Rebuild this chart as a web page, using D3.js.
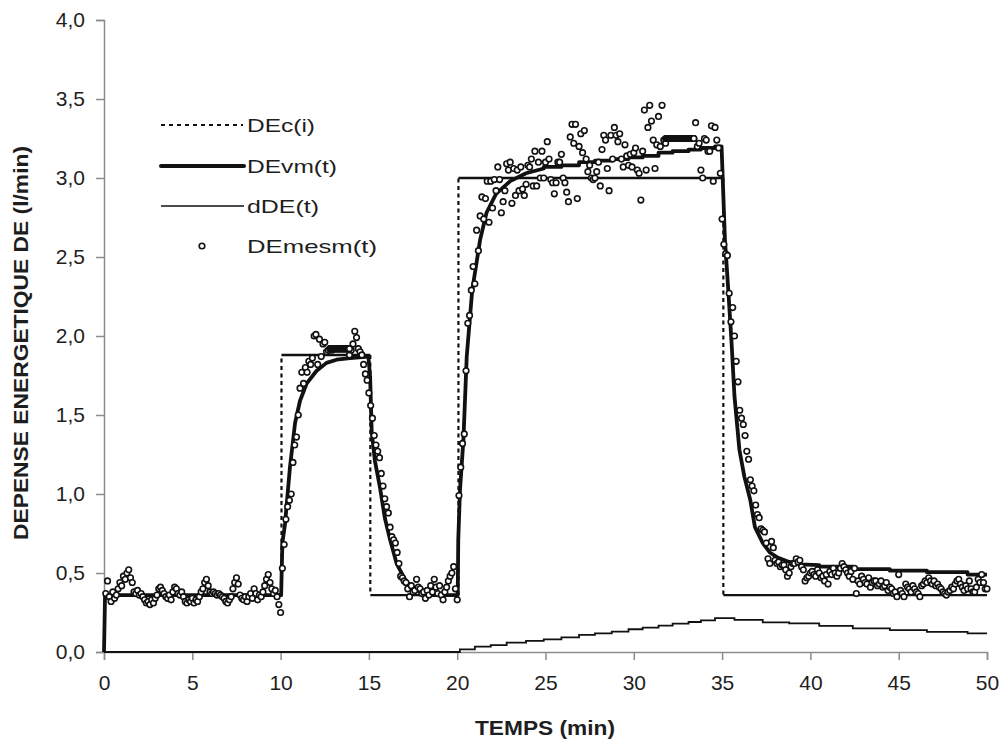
<!DOCTYPE html>
<html><head><meta charset="utf-8">
<script src="https://cdn.jsdelivr.net/npm/d3@7"></script>
<style>
html,body{margin:0;padding:0;background:#fff;}
svg{display:block;font-family:"Liberation Sans",Arial,sans-serif;}
</style></head>
<body>
<svg id="chart" width="1002" height="747"></svg>
<script>
// ---------- DATA ----------
const xTicks = [0,5,10,15,20,25,30,35,40,45,50];
const yTicks = [0,0.5,1,1.5,2,2.5,3,3.5,4];

// DEc(i) : consigne (step series)
const decTimes  = [0, 10.05, 10.05, 15.08, 15.08, 20.07, 20.07, 35.07, 35.07, 50];
const decValues = [0.36, 0.36, 1.88, 1.88, 0.36, 0.36, 3.0, 3.0, 0.36, 0.36];

// DEvm(t) : model response
const devmTimes  = [0, 0.06, 10.03, 10.1, 10.25, 10.53, 10.82, 11.1, 11.48, 12.04, 12.6, 13.17, 13.93, 14.97,
  15.07, 15.16, 15.34, 15.63, 15.9, 16.2, 16.57, 17.13, 17.9, 18.6, 20.03, 20.06, 20.16, 20.35, 20.54, 20.85,
  21.3, 21.66, 22.2, 23.0, 23.9, 24.9, 24.9, 25.9, 25.9, 26.9, 26.9, 27.8, 27.8, 28.75, 28.75, 29.7, 29.7,
  30.5, 30.5, 31.4, 31.4, 32.2, 32.2, 33.1, 33.1, 33.8, 33.8, 34.6, 34.6, 34.97, 35.16, 35.35, 35.54, 35.7,
  35.98, 36.26, 36.6, 36.86, 37.3, 37.7, 38.1, 38.8, 39.4, 40.5, 40.5, 42.4, 42.4, 44.5, 44.5, 46.6, 46.6,
  48.9, 48.9, 50];
const devmValues = [0, 0.36, 0.36, 0.69, 0.81, 1.17, 1.45, 1.59, 1.70, 1.78, 1.83, 1.85, 1.86, 1.87,
  1.74, 1.39, 1.21, 1.04, 0.85, 0.71, 0.56, 0.44, 0.38, 0.36, 0.36, 0.71, 1.03, 1.34, 1.87, 2.29,
  2.61, 2.78, 2.90, 2.98, 3.03, 3.06, 3.07, 3.07, 3.08, 3.08, 3.10, 3.10, 3.11, 3.11, 3.12, 3.12, 3.13,
  3.13, 3.14, 3.14, 3.16, 3.16, 3.17, 3.17, 3.18, 3.18, 3.19, 3.19, 3.20, 3.20, 2.61, 2.29, 1.95, 1.62,
  1.28, 1.11, 0.96, 0.79, 0.69, 0.63, 0.60, 0.57, 0.555, 0.55, 0.54, 0.54, 0.525, 0.525, 0.515, 0.515, 0.505,
  0.505, 0.49, 0.49];

// dDE(t) : drift term (step series)
const ddeTimes  = [0, 20.15, 21.0, 21.9, 22.8, 23.9, 24.9, 25.9, 26.9, 27.8, 28.75, 29.7, 30.5, 31.4, 32.2,
  33.1, 33.8, 34.6, 35.7, 37.3, 38.8, 40.5, 42.4, 44.5, 46.6, 48.9, 50];
const ddeValues = [0, 0.017, 0.034, 0.044, 0.059, 0.07, 0.08, 0.093, 0.108, 0.118, 0.129, 0.144, 0.154, 0.167, 0.18,
  0.19, 0.2, 0.215, 0.203, 0.188, 0.181, 0.165, 0.15, 0.139, 0.127, 0.118, 0.118];

// DEmesm(t) : measurements, sampled every 0.1 min
const mesStep = 0.1;
const mesRest1 = [ // t = 0.1 .. 10.0
 0.37,0.45,0.35,0.32,0.38,0.34,0.36,0.40,0.44,0.42, 0.48,0.46,0.50,0.52,0.47,0.44,0.38,0.37,0.39,0.36,
 0.37,0.35,0.33,0.31,0.32,0.30,0.33,0.31,0.34,0.36, 0.40,0.41,0.39,0.37,0.35,0.34,0.36,0.33,0.38,0.41,
 0.40,0.37,0.36,0.38,0.35,0.32,0.31,0.33,0.32,0.34, 0.31,0.33,0.32,0.35,0.38,0.40,0.44,0.46,0.42,0.38,
 0.37,0.38,0.37,0.36,0.37,0.36,0.35,0.34,0.32,0.31, 0.33,0.35,0.40,0.44,0.47,0.43,0.36,0.34,0.33,0.35,
 0.32,0.35,0.37,0.34,0.40,0.37,0.33,0.36,0.35,0.38, 0.42,0.46,0.49,0.44,0.40,0.37,0.39,0.35,0.30,0.25];
const mesEx1 = [ // t = 10.1 .. 15.0
 0.53,0.68,0.84,0.92,0.96,1.00,1.20,1.31,1.36,1.50, 1.67,1.77,1.70,1.80,1.77,1.84,1.82,1.86,2.00,2.01,
 1.82,1.98,1.87,1.95,1.96,1.90,1.91,1.92,1.91,1.92, 1.92,1.92,1.92,1.92,1.92,1.92,1.92,1.92,1.88,1.91,
 1.95,2.03,1.99,1.92,1.90,1.88,1.82,1.76,1.72,1.64];
const mesRec1 = [ // t = 15.1 .. 20.0
 1.56,1.48,1.37,1.31,1.27,1.23,1.13,1.05,0.97,0.92, 0.88,0.79,0.73,0.71,0.69,0.63,0.56,0.48,0.47,0.45,
 0.44,0.40,0.35,0.42,0.38,0.39,0.46,0.41,0.40,0.37, 0.38,0.34,0.39,0.36,0.42,0.38,0.46,0.41,0.37,0.42,
 0.36,0.33,0.38,0.41,0.45,0.48,0.50,0.54,0.40,0.33];
const mesEx2 = [ // t = 20.1 .. 35.0
 0.99,1.17,1.32,1.38,1.78,2.08,2.13,2.29,2.44,2.33, 2.67,2.54,2.76,2.88,2.74,2.87,2.98,2.72,2.98,2.81,
 2.99,2.92,3.07,2.99,2.78,2.85,2.92,3.09,3.05,3.10, 2.84,3.06,2.89,3.05,2.92,3.07,2.93,2.89,2.96,3.08,
 3.07,3.12,2.95,3.17,2.95,3.10,3.00,3.17,3.00,3.10, 3.23,3.12,2.99,2.97,2.90,2.97,3.10,3.10,3.15,3.00,
 2.97,2.91,2.85,3.26,3.34,3.22,3.34,2.87,3.20,3.28, 3.16,3.30,3.12,3.04,3.08,3.00,2.99,3.00,3.04,3.10,
 2.95,3.18,3.27,3.24,3.06,2.92,3.27,3.12,3.32,3.27, 3.23,3.28,3.12,3.07,3.21,3.14,3.08,3.15,3.07,3.16,
 3.19,3.05,3.03,2.86,3.17,3.43,3.05,3.32,3.46,3.36, 3.24,3.06,3.21,3.39,3.20,3.46,3.24,3.22,3.25,3.25,
 3.25,3.25,3.25,3.25,3.25,3.25,3.25,3.25,3.25,3.25, 3.25,3.25,3.25,3.25,3.35,3.20,3.22,3.05,3.00,3.25,
 3.24,3.17,3.17,3.33,2.98,3.32,3.24,3.19,3.03,2.74];
const mesRec2 = [ // t = 35.1 .. 50.0
 2.58,2.52,2.51,2.27,2.09,2.18,2.00,1.84,1.71,1.53, 1.48,1.44,1.37,1.27,1.22,1.09,1.05,1.02,0.93,0.87,
 0.85,0.78,0.77,0.76,0.69,0.59,0.56,0.70,0.66,0.58, 0.56,0.57,0.54,0.55,0.55,0.52,0.48,0.50,0.54,0.56,
 0.56,0.59,0.57,0.58,0.54,0.52,0.45,0.47,0.48,0.50, 0.51,0.49,0.48,0.52,0.50,0.47,0.48,0.45,0.49,0.43,
 0.51,0.49,0.53,0.50,0.48,0.50,0.53,0.56,0.54,0.52, 0.50,0.48,0.51,0.46,0.53,0.37,0.45,0.43,0.48,0.46,
 0.44,0.43,0.47,0.41,0.44,0.45,0.45,0.42,0.43,0.45, 0.41,0.42,0.44,0.39,0.41,0.40,0.37,0.38,0.35,0.49,
 0.39,0.37,0.35,0.43,0.41,0.40,0.38,0.42,0.40,0.38, 0.37,0.35,0.42,0.43,0.45,0.44,0.47,0.45,0.43,0.45,
 0.42,0.43,0.41,0.40,0.38,0.37,0.36,0.38,0.39,0.41, 0.40,0.43,0.45,0.46,0.43,0.41,0.39,0.42,0.40,0.45,
 0.40,0.38,0.38,0.41,0.46,0.44,0.49,0.44,0.40,0.40];
// dense runs of identical readings
const rowATimes = [12.80,12.85,12.90,12.95,13.00,13.05,13.10,13.15,13.20,13.25,13.30,13.35,13.40,13.45,13.50,
  13.55,13.60,13.65,13.70,13.75,13.80,13.85,13.90];
const rowAValue = 1.92;
const rowBTimes = [31.80,31.85,31.90,31.95,32.00,32.05,32.10,32.15,32.20,32.25,32.30,32.35,32.40,32.45,32.50,
  32.55,32.60,32.65,32.70,32.75,32.80,32.85,32.90,32.95,33.00,33.05,33.10,33.15,33.20,33.25,33.30,33.35,33.40];
const rowBValue = 3.25;

const legendLabels = ["DEc(i)", "DEvm(t)", "dDE(t)", "DEmesm(t)"];
const xTitle = "TEMPS (min)";
const yTitle = "DEPENSE ENERGETIQUE DE (l/min)";

// ---------- BUILD ----------
const svg = d3.select("#chart");
const x = d3.scaleLinear().domain([0, 50]).range([104, 987]);
const y = d3.scaleLinear().domain([0, 4]).range([652, 20]);
const fmt = d => d.toFixed(1).replace(".", ",");
const AX = "#8c8c8c", INK = "#111", TXT = "#1e1e1e";

// axes
const gx = svg.append("g").attr("transform", `translate(0,${y(0)})`)
  .call(d3.axisBottom(x).tickValues(xTicks).tickSize(8).tickPadding(15).tickFormat(d => d));
const gy = svg.append("g").attr("transform", `translate(${x(0)},0)`)
  .call(d3.axisLeft(y).tickValues(yTicks).tickSize(8).tickPadding(11).tickFormat(fmt));
[gx, gy].forEach(g => {
  g.select(".domain").attr("stroke", AX).attr("stroke-width", 1.5);
  g.selectAll(".tick line").attr("stroke", AX).attr("stroke-width", 1.5);
  g.selectAll(".tick text").attr("fill", TXT).style("font-size", "21px")
    .style("font-family", "'Liberation Sans', Arial, sans-serif");
});

// titles
svg.append("text").attr("x", 545).attr("y", 735).attr("text-anchor", "middle")
  .attr("textLength", 140).attr("lengthAdjust", "spacingAndGlyphs")
  .style("font-size", "20px").style("font-weight", "bold").attr("fill", TXT).text(xTitle);
svg.append("text").attr("transform", `translate(28,343) rotate(-90)`).attr("text-anchor", "middle")
  .attr("textLength", 394).attr("lengthAdjust", "spacingAndGlyphs")
  .style("font-size", "20px").style("font-weight", "bold").attr("fill", TXT).text(yTitle);

// DEc: horizontal parts solid, vertical parts dotted
const decPts = decTimes.map((t, i) => [t, decValues[i]]);
for (let i = 0; i < decPts.length - 1; i++) {
  const a = decPts[i], b = decPts[i + 1];
  const vertical = a[0] === b[0];
  svg.append("line").attr("x1", x(a[0])).attr("y1", y(a[1])).attr("x2", x(b[0])).attr("y2", y(b[1]))
    .attr("stroke", INK).attr("stroke-width", vertical ? 2.2 : 2.4)
    .attr("stroke-dasharray", vertical ? "4,3.5" : null);
}

// dDE
const ddePts = ddeTimes.map((t, i) => [t, ddeValues[i]]);
svg.append("path").datum(ddePts)
  .attr("d", d3.line().x(d => x(d[0])).y(d => y(d[1])).curve(d3.curveStepAfter))
  .attr("fill", "none").attr("stroke", INK).attr("stroke-width", 1.8);

// DEvm
const devmPts = devmTimes.map((t, i) => [t, devmValues[i]]);
svg.append("path").datum(devmPts)
  .attr("d", d3.line().x(d => x(d[0])).y(d => y(d[1])))
  .attr("fill", "none").attr("stroke", INK).attr("stroke-width", 3.8).attr("stroke-linejoin", "round");

// measurements
const mes = [];
const addBlock = (arr, t0) => arr.forEach((v, i) => mes.push([+(t0 + (i + 1) * mesStep).toFixed(2), v]));
addBlock(mesRest1, 0); addBlock(mesEx1, 10); addBlock(mesRec1, 15); addBlock(mesEx2, 20); addBlock(mesRec2, 35);
rowATimes.forEach(t => mes.push([t, rowAValue]));
rowBTimes.forEach(t => mes.push([t, rowBValue]));
svg.append("g").selectAll("circle").data(mes).join("circle")
  .attr("cx", d => x(d[0])).attr("cy", d => y(d[1])).attr("r", 2.8)
  .attr("fill", "#fff").attr("stroke", INK).attr("stroke-width", 1.6);

// legend
const lg = svg.append("g");
const ly = [125, 166, 206, 246];
const lw = [68, 90, 72, 130];
lg.append("line").attr("x1", 161).attr("x2", 243).attr("y1", ly[0]).attr("y2", ly[0])
  .attr("stroke", INK).attr("stroke-width", 1.8).attr("stroke-dasharray", "4,4");
lg.append("line").attr("x1", 161).attr("x2", 244).attr("y1", ly[1]).attr("y2", ly[1])
  .attr("stroke", INK).attr("stroke-width", 4).attr("stroke-linecap", "round");
lg.append("line").attr("x1", 161).attr("x2", 244).attr("y1", ly[2]).attr("y2", ly[2])
  .attr("stroke", INK).attr("stroke-width", 1.6);
lg.append("circle").attr("cx", 202).attr("cy", ly[3]).attr("r", 2.8)
  .attr("fill", "#fff").attr("stroke", INK).attr("stroke-width", 1.6);
legendLabels.forEach((s, i) => {
  lg.append("text").attr("x", 247).attr("y", ly[i] + 7).style("font-size", "19px")
    .attr("textLength", lw[i]).attr("lengthAdjust", "spacingAndGlyphs")
    .attr("fill", TXT).text(s);
});
</script>
</body></html>
